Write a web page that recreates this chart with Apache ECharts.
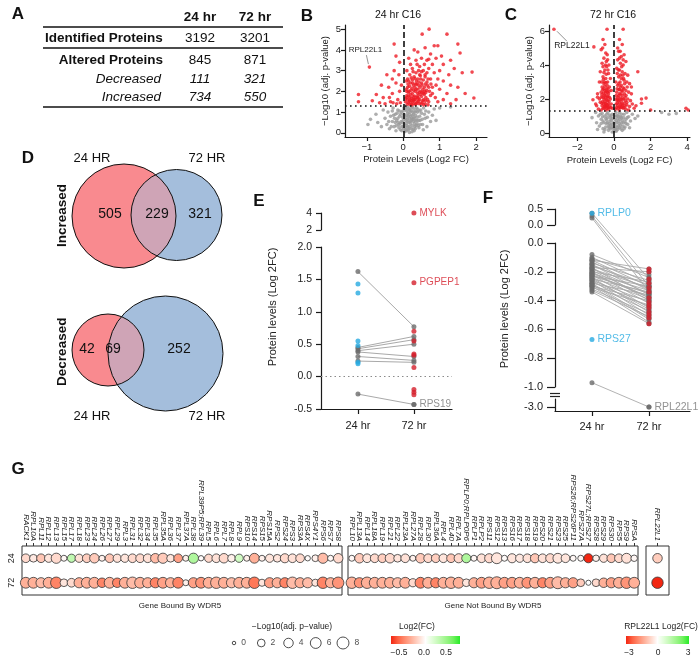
<!DOCTYPE html>
<html><head><meta charset="utf-8">
<script src="https://cdn.jsdelivr.net/npm/echarts@6/dist/echarts.min.js"></script>
<style>html,body{margin:0;padding:0;background:#fff}#c{width:700px;height:661px}</style>
</head><body><div id="c"></div>
<script>
const FONT = "'Liberation Sans', Arial, Helvetica, sans-serif";

// ---------------- Panel A : table
const tableHeaders = ['24 hr', '72 hr'];
const tableRows = ['Identified Proteins', 'Altered Proteins', 'Decreased', 'Increased'];
const tableVals24 = [3192, 845, 111, 734];
const tableVals72 = [3201, 871, 321, 550];

// ---------------- Panel B : volcano 24 hr
const sigLine = 1.3;
const B_label = ['RPL22L1', -0.93, 3.17];
const B_red = [[-0.93,3.17],[0.52,4.76],[0.71,5.0],[1.2,4.76],[-0.25,4.28],[1.5,4.28],[1.56,3.85],[1.62,2.9],[-1.23,1.85],[-0.74,1.85],[-1.23,1.5],[1.89,2.93],[1.94,1.68],
[0.85,4.2],[0.95,4.2],[0.6,4.1],[0.4,3.9],[0.3,4.0],[0.75,3.8],[0.9,3.6],[1.05,3.7],[1.1,3.3],[1.3,3.5],[1.4,3.1],[1.25,2.8],[1.0,3.0],[0.8,3.3],[0.65,3.5],[0.5,3.6],[0.35,3.5],[0.2,3.3],[0.15,3.6],[0.1,3.0],[0.25,3.1],[0.45,3.2],[0.55,3.0],[0.7,3.1],[0.85,2.9],[0.95,2.6],[1.1,2.5],[1.3,2.3],[1.5,2.2],[1.7,1.9],[1.45,1.6],[1.2,1.9],[1.0,2.1],[0.9,2.3],[0.75,2.6],[0.6,2.7],[0.45,2.8],[0.3,2.7],[0.18,2.8],[0.08,2.5],[0.12,2.2],[0.2,2.4],[0.28,2.3],[0.36,2.5],[0.42,2.3],[0.5,2.4],[0.58,2.2],[0.66,2.3],[0.72,2.0],[0.8,1.9],[0.88,1.7],[0.95,1.5],[1.1,1.6],[1.3,1.4],[0.7,1.5],[0.62,1.7],[0.55,1.9],[0.48,2.0],[0.4,1.8],[0.33,2.0],[0.25,1.9],[0.18,1.7],[0.1,1.8],[0.06,1.5],[0.14,1.45],[0.22,1.55],[0.3,1.6],[0.38,1.5],[0.45,1.6],[0.52,1.45],[0.6,1.4],[0.68,1.35],[0.16,2.0],[0.24,2.15],[0.32,2.2],[0.4,2.1],[0.46,2.2],[0.54,2.1],[0.62,1.95],[0.35,1.7],[0.27,1.75],[0.2,1.85],[0.12,1.6],[0.44,1.4],[0.5,1.75],[0.56,1.6],[0.3,1.4],[0.22,1.4],[0.15,2.5],[0.25,2.55],[0.4,2.6],[0.55,2.55],[0.65,2.45],[0.35,2.9],[0.5,2.95],[0.65,2.9],[0.8,2.2],
[0.19,1.35],[0.26,1.5],[0.34,1.38],[0.41,1.65],[0.29,2.05],[0.37,2.35],[0.13,2.35],[0.09,2.0],[0.58,1.85],[0.48,2.6],
[0.07,1.65],[0.11,1.38],[0.17,1.52],[0.23,1.66],[0.31,1.78],[0.39,1.92],[0.47,1.85],[0.53,1.55],[0.61,1.55],[0.67,1.6],[0.09,2.1],[0.17,2.25],[0.26,2.4],[0.34,2.35],[0.43,2.45],[0.51,2.3],[0.6,2.35],[0.7,2.2],[0.14,1.95],[0.21,2.05],[0.35,2.1],[0.44,1.95],[0.52,1.95],[0.29,1.55],[0.36,1.42],[0.42,1.52],[0.49,1.4],[0.56,1.35],[0.24,1.35],[0.33,1.62],[0.4,1.72],[0.18,1.58],[0.27,1.62],[0.15,1.78],[0.09,1.72],[0.58,2.0],[0.64,2.05],[0.75,1.8],[0.76,2.35],[0.68,2.6],[0.22,2.65],[0.32,2.62],[0.12,2.6],[0.6,2.8],[0.42,3.0],[0.27,2.95],[0.38,3.3],[0.58,3.3],[0.7,3.55],[0.47,2.75],
[-0.1,2.0],[-0.15,1.6],[-0.2,2.4],[-0.3,1.9],[-0.35,1.5],[-0.4,2.2],[-0.45,2.8],[-0.55,1.7],[-0.6,2.3],[-0.25,3.0],[-0.12,2.8],[-0.18,1.4],[-0.08,1.45],[-0.5,1.4],[-0.65,1.45],[-0.3,2.6],[-0.1,3.4],[-0.2,3.7],[-0.85,1.55],[-0.05,2.3],[-0.38,1.7],[-0.28,1.45]];
const B_grey = [[-0.97,0.4],[-0.9,0.65],[-0.75,0.9],[-0.7,0.5],[-0.6,0.3],[-0.55,1.1],[-0.5,0.7],[-0.45,0.4],[-0.42,1.0],[-0.38,0.2],[-0.35,0.8],[-0.3,0.55],[-0.28,1.2],[-0.25,0.3],[-0.22,0.9],[-0.2,0.1],[-0.18,0.6],[-0.15,1.1],[-0.12,0.4],[-0.1,0.8],[-0.08,0.15],[-0.05,1.0],[-0.03,0.5],[0,0.3],[0.02,0.9],[0.04,0.05],[0.06,1.2],[0.08,0.6],[0.1,0.35],[0.12,0.95],[0.14,0.15],[0.16,0.7],[0.18,1.1],[0.2,0.45],[0.22,0.2],[0.24,0.85],[0.26,1.25],[0.28,0.55],[0.3,0.1],[0.32,1.0],[0.35,0.35],[0.38,0.75],[0.4,1.15],[0.43,0.25],[0.46,0.6],[0.5,0.95],[0.53,0.4],[0.56,1.2],[0.6,0.7],[0.65,0.3],[0.7,1.0],[0.75,0.55],[0.8,0.85],[0.85,1.15],[0.9,0.6],[0.05,0.7],[0.15,0.5],[0.25,0.65],[0.1,1.05],[0.2,0.8],[-0.02,0.75],[-0.12,0.25],[0.33,0.6],[0.45,0.8],[-0.06,0.55],[0.07,0.25],[0.18,0.3],[0.28,0.9],[0.38,0.45],[-0.22,0.5],[0.02,1.2],[0.12,1.25],[-0.3,1.05],[0.48,1.1],[0.62,1.05],[0.55,0.15],[-0.15,0.7],[0.03,0.4],[0.22,1.05],[0.36,1.2],[1.0,1.2],[1.3,1.25],[0.09,0.1],[0.17,0.02],[0.27,0.18],[-0.04,0.1],[0.13,0.8],[0.3,0.75],
[0.0,0.6],[0.03,0.85],[0.05,1.1],[0.08,0.45],[0.11,0.65],[0.13,0.3],[0.16,0.9],[0.19,0.55],[0.21,1.2],[0.23,0.7],[0.25,0.35],[0.27,1.0],[0.29,0.7],[0.31,0.45],[0.34,0.85],[0.37,0.6],[0.39,1.0],[0.41,0.35],[0.44,1.05],[0.47,0.4],[-0.01,1.05],[-0.04,0.3],[-0.07,0.9],[-0.09,0.45],[-0.11,1.05],[-0.14,0.5],[-0.17,0.95],[-0.19,0.35],[-0.24,0.7],[-0.27,0.85],[0.06,0.15],[0.15,0.2],[0.24,0.05],[0.33,0.2],[0.42,0.6],[0.52,0.65],[0.58,0.9],[0.66,0.75],[-0.33,0.3],[-0.4,0.55],[0.01,0.2],[0.09,0.82],[0.19,1.0],[0.29,1.15],[0.12,0.55],[0.22,0.6],[0.32,0.3],[0.04,1.25],[0.14,1.15],[0.35,1.05]];

// ---------------- Panel C : volcano 72 hr
const C_label = ['RPL22L1', -3.28, 6.1];
const C_red = [[-3.28,6.1],[-0.38,6.1],[0.5,6.1],[-1.1,5.06],[1.3,3.6],[1.5,2.0],[1.75,2.05],[2.0,1.35],[1.5,1.75],[3.93,1.45],[4.05,1.35],[-1.15,1.95],[-0.9,2.1],
[-0.6,5.5],[-0.5,5.2],[-0.7,4.9],[-0.45,4.7],[-0.55,4.4],[-0.35,4.3],[-0.65,4.1],[-0.4,3.9],[-0.5,3.7],[-0.75,3.6],[-0.3,3.5],[-0.6,3.3],[-0.45,3.2],[-0.8,3.0],[-0.35,3.0],[-0.55,2.9],[-0.65,2.7],[-0.4,2.6],[-0.25,2.7],[-0.5,2.5],[-0.7,2.4],[-0.9,2.3],[-0.3,2.3],[-0.45,2.2],[-0.6,2.1],[-0.2,2.0],[-0.35,1.9],[-0.5,1.85],[-0.75,1.8],[-1.0,1.7],[-0.65,1.6],[-0.4,1.6],[-0.25,1.55],[-0.15,1.7],[-0.55,1.45],[-0.85,1.4],[-0.3,1.4],[-0.1,1.45],[-0.45,1.35],[-0.7,1.35],[-0.6,3.9],[-0.42,4.2],[-0.52,3.0],[-0.38,2.8],[-0.58,2.35],[-0.48,1.6],[-0.62,5.0],[-0.28,4.0],[-0.2,3.2],[-0.15,2.5],[-0.8,2.0],[-0.95,1.6],[-0.55,2.0],[-0.42,2.45],[-0.33,3.7],[-0.68,3.0],[-0.36,2.1],[-0.46,1.75],[-0.56,2.6],[-0.62,1.85],[-0.3,1.7],
[-0.32,1.5],[-0.38,1.45],[-0.43,1.55],[-0.52,1.55],[-0.6,1.45],[-0.66,1.75],[-0.57,1.7],[-0.44,1.7],[-0.36,1.65],[-0.27,1.85],[-0.4,1.95],[-0.48,2.05],[-0.53,2.2],[-0.66,2.25],[-0.33,2.15],[-0.27,2.45],[-0.36,2.4],[-0.47,2.35],[-0.62,2.55],[-0.5,2.75],[-0.44,2.95],[-0.33,2.6],[-0.58,3.15],[-0.42,3.45],[-0.55,3.55],[-0.25,2.1],[-0.18,1.5],[-0.7,2.1],[-0.47,4.0],[-0.37,4.6],
[0.3,5.5],[0.45,5.2],[0.25,4.8],[0.4,4.5],[0.55,4.6],[0.2,4.3],[0.35,4.1],[0.5,4.0],[0.65,4.2],[0.15,3.8],[0.3,3.7],[0.45,3.6],[0.6,3.5],[0.75,3.4],[0.25,3.3],[0.4,3.2],[0.55,3.1],[0.7,3.0],[0.85,2.9],[0.1,3.0],[0.2,2.8],[0.35,2.7],[0.5,2.65],[0.65,2.5],[0.8,2.4],[0.95,2.3],[0.15,2.4],[0.3,2.3],[0.45,2.2],[0.6,2.1],[0.75,2.0],[0.9,1.9],[1.0,1.7],[0.1,2.0],[0.25,1.9],[0.4,1.85],[0.55,1.75],[0.7,1.65],[0.85,1.55],[0.2,1.6],[0.35,1.5],[0.5,1.45],[0.65,1.4],[0.8,1.35],[0.08,1.4],[0.28,1.35],[0.42,2.5],[0.58,2.9],[0.33,3.0],[0.48,3.4],[0.22,2.1],[0.62,1.9],[0.38,1.65],[0.12,1.7],[0.52,2.0],[0.72,2.7],[0.18,3.5],[0.42,3.9],[0.3,4.4],[1.1,1.45],[1.2,1.6],[0.95,2.7],[0.27,2.55],[0.37,2.05],[0.47,1.6],[0.17,1.9],
[0.14,1.5],[0.23,1.45],[0.31,1.55],[0.42,1.5],[0.55,1.5],[0.6,1.6],[0.45,1.7],[0.3,1.75],[0.18,1.75],[0.2,2.0],[0.33,1.95],[0.45,2.0],[0.57,2.3],[0.38,2.3],[0.26,2.2],[0.17,2.6],[0.3,2.55],[0.46,2.45],[0.55,2.6],[0.26,2.9],[0.4,2.8],[0.52,3.2],[0.35,3.4],[0.24,3.7],[0.12,2.2],[0.7,1.8],[0.66,2.2],[0.34,4.8],[0.2,5.0],[0.5,4.3]];
const C_grey = [[-1.2,0.9],[-1.0,1.2],[-0.95,0.6],[-0.85,1.0],[-0.8,0.4],[-0.7,0.8],[-0.65,1.15],[-0.6,0.25],[-0.55,0.6],[-0.5,1.0],[-0.45,0.35],[-0.4,0.75],[-0.35,1.2],[-0.3,0.15],[-0.25,0.55],[-0.2,0.9],[-0.15,0.3],[-0.1,1.1],[-0.05,0.6],[0,0.1],[0.05,0.8],[0.1,0.4],[0.15,1.0],[0.2,0.2],[0.25,0.7],[0.3,1.2],[0.35,0.45],[0.4,0.9],[0.45,0.15],[0.5,0.6],[0.55,1.1],[0.6,0.35],[0.65,0.8],[0.7,1.2],[0.75,0.5],[0.8,0.95],[0.9,0.7],[1.0,1.1],[1.15,0.85],[1.3,1.0],[-0.55,0.05],[-0.35,0.6],[-0.15,0.75],[0.05,0.25],[0.25,0.4],[0.45,0.75],[-0.45,0.85],[-0.25,1.05],[0.15,0.6],[0.35,0.95],[-0.7,0.55],[0.65,0.55],[-0.05,0.35],[0.1,1.2],[-0.3,0.4],[0.2,0.85],[2.6,1.2],[3.0,1.1],[3.4,1.15],[-0.9,0.2],[0.85,0.3],[0.55,0.25],[-0.1,0.05],[0.12,0.1],[-0.2,0.25],[0.3,0.3],
[-0.5,0.2],[-0.42,0.55],[-0.36,0.9],[-0.28,0.3],[-0.22,0.7],[-0.16,1.0],[-0.12,0.5],[-0.08,0.85],[-0.02,0.25],[0.02,0.55],[0.07,1.0],[0.12,0.7],[0.17,0.3],[0.22,1.05],[0.28,0.55],[0.32,0.8],[0.38,0.25],[0.42,1.1],[0.48,0.4],[0.52,0.9],[-0.6,0.7],[-0.75,1.1],[-0.62,0.95],[0.6,0.65],[0.72,0.9],[-0.2,0.45],[0.1,0.15],[0.25,0.95],[-0.4,1.1],[0.4,0.6]];

// ---------------- Panel D : Venn
const vennSetLabels = ['24 HR', '72 HR'];
const vennIncreased = [505, 229, 321];
const vennDecreased = [42, 69, 252];

// ---------------- Panel E
const E_pair24 = [1.62, 0.45, 0.43, 0.40, 0.38, 0.31, 0.24, -0.27];
const E_pair72 = [0.77, 0.62, 0.57, 0.50, 0.31, 0.25, 0.22, -0.43];
const E_blue24 = [1.43, 1.29, 0.55, 0.48, 0.22, 0.20];
const E_red72 = [0.70, 0.55, 0.35, 0.33, 0.14, -0.20, -0.24, -0.28];
const E_named = [['MYLK', 2, 4.0], ['PGPEP1', 2, 1.45], ['RPS19', 2, -0.43]];

// ---------------- Panel F
const F_pair24 = [0.37, 0.28, 0.22,
  -0.08,-0.10,-0.11,-0.12,-0.13,-0.14,-0.15,-0.16,-0.17,-0.18,-0.18,-0.19,-0.20,-0.20,-0.21,-0.22,-0.22,-0.23,-0.24,-0.24,-0.25,-0.26,-0.26,-0.27,-0.28,-0.28,-0.29,-0.30,-0.30,-0.31,-0.32,-0.33,-0.34,-0.15,-0.21,-0.25,-0.17,-0.12,-0.29,-0.23,
  -0.97];
const F_pair72 = [-0.25, -0.30, -0.34,
  -0.24,-0.28,-0.22,-0.30,-0.33,-0.26,-0.36,-0.29,-0.40,-0.31,-0.35,-0.38,-0.27,-0.42,-0.33,-0.45,-0.37,-0.30,-0.48,-0.39,-0.34,-0.50,-0.41,-0.44,-0.36,-0.52,-0.47,-0.40,-0.55,-0.43,-0.49,-0.51,-0.56,-0.32,-0.38,-0.46,-0.20,-0.18,-0.53,-0.35,
  -3.0];
const F_red72 = [-0.18,-0.20,-0.25,-0.28,-0.31,-0.34,-0.38,-0.41,-0.43,-0.45,-0.48,-0.50,-0.52,-0.56];
const F_named = [['RPLP0', 1, 0.37], ['RPS27', 1, -0.67], ['RPL22L1', 2, -3.0]];

// ---------------- Panel G
const gRows = ['72', '24'];
const gBound = ['RACK1','RPL10A','RPL11','RPL12','RPL13','RPL15','RPL17','RPL18','RPL23','RPL24','RPL26','RPL27','RPL29','RPL3','RPL31','RPL32','RPL34','RPL35','RPL35A','RPL36','RPL37','RPL37A','RPL38','RPL39P5;RPL39','RPL5','RPL6','RPL7','RPL8','RPL9','RPS10','RPS14','RPS15','RPS15A','RPS2','RPS24','RPS3','RPS3A','RPS4X','RPS4Y1','RPS6','RPS7','RPS8'];
const gBound_fc24 = [-0.1,-0.06,-0.15,-0.07,-0.1,-0.02,0.2,-0.08,-0.13,-0.14,-0.04,-0.15,-0.08,-0.07,-0.1,-0.1,-0.08,-0.18,-0.14,-0.07,-0.25,-0.04,0.25,-0.01,-0.1,-0.08,-0.1,-0.04,0.15,-0.04,-0.21,-0.04,-0.07,-0.07,-0.1,-0.08,-0.1,-0.01,-0.04,-0.18,-0.02,-0.1];
const gBound_p24 = [3,2,3,2.5,5,0.7,2.5,2.5,3,4,0.7,3,2.5,2.5,3,3,3,4,5,2,3,0.7,5,0.4,2.5,3,4,2,2.5,0.7,4.5,0.7,2.5,2,3.5,3,3,0.4,1.2,5,0.7,4];
const gBound_fc72 = [-0.21,-0.21,-0.18,-0.21,-0.32,-0.07,-0.1,-0.21,-0.21,-0.21,-0.32,-0.21,-0.32,-0.21,-0.18,-0.21,-0.21,-0.32,-0.25,-0.21,-0.32,-0.04,-0.25,-0.28,-0.21,-0.21,-0.21,-0.18,-0.21,-0.21,-0.35,-0.07,-0.25,-0.21,-0.32,-0.18,-0.21,-0.18,-0.07,-0.32,-0.21,-0.28];
const gBound_p72 = [6,6,5,6,7,2,3,5,6,6,4,6,4,6,7,6,5,5,6,5,6,0.7,5,6,6,7,6,5,6,6,7,1.5,5,5,5,7,5,5,1.5,7,5,7];
const gUnbound = ['RPL10','RPL13A','RPL14','RPL18A','RPL19','RPL21','RPL22','RPL23A','RPL27A','RPL28','RPL30','RPL36A','RPL4','RPL40','RPL7A','RPLP0;RPLP0P6','RPLP1','RPLP2','RPS11','RPS12','RPS13','RPS16','RPS17','RPS18','RPS19','RPS20','RPS21','RPS23','RPS25','RPS26;RPS26P11','RPS27A','RPS27L;RPS27','RPS28','RPS29','RPS30','RPS5','RPS9','RPSA'];
const gUnbound_fc24 = [-0.02,-0.14,-0.07,-0.1,-0.13,-0.1,-0.07,-0.08,-0.04,-0.14,-0.1,-0.13,-0.07,-0.15,-0.1,0.25,-0.02,-0.08,-0.1,-0.07,-0.01,-0.07,-0.06,-0.08,-0.15,-0.08,-0.1,-0.07,-0.07,-0.02,-0.02,-0.5,-0.04,-0.08,-0.15,-0.1,-0.08,-0.02];
const gUnbound_p24 = [0.7,4,3,3,3,4,2,3,0.7,4,3,3,3,3,3.5,3.5,0.7,3,3.5,6,0.7,3.5,2.5,3,3.5,3,3.5,4.5,3,0.7,0.7,3.5,1,2.5,3,3,4.5,1];
const gUnbound_fc72 = [-0.21,-0.28,-0.21,-0.21,-0.21,-0.21,-0.18,-0.21,-0.1,-0.32,-0.21,-0.32,-0.21,-0.21,-0.21,-0.07,-0.21,-0.25,-0.21,-0.21,-0.25,-0.25,-0.21,-0.28,-0.21,-0.32,-0.25,-0.18,-0.21,-0.25,-0.14,0,-0.1,-0.21,-0.25,-0.21,-0.28,-0.21];
const gUnbound_p72 = [7,5,7,6,6,6,5,6,2.5,6,6,5,6,7,6,2,5,6,7,8,6,6,6,6,6,5,6,8,5,5,2,0.3,2,4,5,6,7,6];
const gSingle = ['RPL22L1'];
const gSingle_fc24 = [-0.8], gSingle_p24 = [4], gSingle_fc72 = [-3], gSingle_p72 = [7];
const sizeLegendVals = [0, 2, 4, 6, 8];
const fcLegendTicks = [-0.5, 0.0, 0.5];
const rplLegendTicks = [-3, 0, 3];

// ================= helpers
const AX = '#1a1a1a';
function merge(a, b) { const r = Object.assign({}, a); for (const k in b) { if (b[k] && typeof b[k] === 'object' && !Array.isArray(b[k]) && a[k] && typeof a[k] === 'object') r[k] = merge(a[k], b[k]); else r[k] = b[k]; } return r; }
const baseVal = {
  type: 'value',
  axisLine: { show: true, onZero: false, lineStyle: { color: AX, width: 1.2 } },
  axisTick: { show: true, length: 4, lineStyle: { color: AX, width: 1.2 } },
  axisLabel: { color: '#222', fontSize: 9.5, fontFamily: FONT, margin: 5 },
  splitLine: { show: false },
  nameTextStyle: { color: '#222', fontSize: 9.5, fontFamily: FONT }
};
const hidden = (g, min, max, extra) => Object.assign({ type: 'value', gridIndex: g, show: false, min, max }, extra || {});
const minusFmt = v => String(v).replace('-', '\u2212');
const fix1 = v => (Math.abs(v) < 1e-9 ? 0 : v).toFixed(1);
const sz = p => 3.5 + 3 * Math.sqrt(Math.max(p, 0));

// colour scale: interpolate in CIE Lab between white and red / green
function lin(c) { c /= 255; return c <= 0.04045 ? c / 12.92 : Math.pow((c + 0.055) / 1.055, 2.4); }
function unlin(c) { c = c <= 0.0031308 ? 12.92 * c : 1.055 * Math.pow(c, 1 / 2.4) - 0.055; return Math.max(0, Math.min(255, Math.round(c * 255))); }
function toLab(rgb) {
  const [r, g, b] = rgb.map(lin);
  const X = (0.4124 * r + 0.3576 * g + 0.1805 * b) / 0.95047, Y = 0.2126 * r + 0.7152 * g + 0.0722 * b, Z = (0.0193 * r + 0.1192 * g + 0.9505 * b) / 1.08883;
  const f = t => t > 0.008856 ? Math.cbrt(t) : 7.787 * t + 16 / 116;
  const fx = f(X), fy_ = f(Y), fz = f(Z);
  return [116 * fy_ - 16, 500 * (fx - fy_), 200 * (fy_ - fz)];
}
function fromLab(lab) {
  const fy_ = (lab[0] + 16) / 116, fx = fy_ + lab[1] / 500, fz = fy_ - lab[2] / 200;
  const fi = t => t > 0.206893 ? t * t * t : (t - 16 / 116) / 7.787;
  const X = fi(fx) * 0.95047, Y = fi(fy_), Z = fi(fz) * 1.08883;
  const r = 3.2406 * X - 1.5372 * Y - 0.4986 * Z, g = -0.9689 * X + 1.8758 * Y + 0.0415 * Z, b = 0.0557 * X - 0.2040 * Y + 1.0570 * Z;
  return 'rgb(' + unlin(r) + ',' + unlin(g) + ',' + unlin(b) + ')';
}
const LAB_W = toLab([255, 255, 255]), LAB_R = toLab([242, 38, 18]), LAB_G = toLab([40, 235, 40]);
function fcColor(fc, range) {
  const t = Math.max(-1, Math.min(1, fc / range));
  const e = t < 0 ? LAB_R : LAB_G, a = Math.abs(t);
  return fromLab([0, 1, 2].map(k => LAB_W[k] + (e[k] - LAB_W[k]) * a));
}
function gData(fc24, p24, fc72, p72) { const d = []; fc24.forEach((f, i) => { d.push([i, 1, p24[i], f]); d.push([i, 0, p72[i], fc72[i]]); }); return d; }

// F broken axis segments (pixel layout) and display mapping
const F_disp = { top: 205, height: 206 };
const F_segs = [ { top: 209, height: 16, min: 0, max: 0.5 }, { top: 243, height: 144, min: -1, max: 0 }, { top: 399, height: 12, min: -3.05, max: -2.9 } ];
function fy(v) { const s = v > 0.01 ? F_segs[0] : (v < -2 ? F_segs[2] : F_segs[1]); return s.top + s.height * (s.max - v) / (s.max - s.min) - F_disp.top; }

const colE = { grey: '#6b6b6b', blue: '#27aae1', red: '#d51f2c', line: '#a9a9a9' };
const VS = 3.6; // volcano symbol size

// ================= option
const gridBox = { show: true, borderColor: '#333', borderWidth: 1 };
const catX = (g, data) => ({ type: 'category', gridIndex: g, data, position: 'top', axisLine: { show: false }, axisTick: { show: true, alignWithLabel: true, length: 3, lineStyle: { color: '#333' } }, axisLabel: { rotate: 90, interval: 0, fontSize: 8, fontStyle: 'italic', fontFamily: FONT, color: '#222', margin: 5 }, splitLine: { show: false } });
const gScatter = (ax, data, range) => ({ type: 'scatter', xAxisIndex: ax, yAxisIndex: ax, silent: true, data,
  symbolSize: v => sz(v[2]), itemStyle: { color: p => fcColor(p.data[3], range), borderColor: '#333', borderWidth: 0.8, opacity: 1 } });
const option = {
  animation: false,
  backgroundColor: '#fff',
  textStyle: { fontFamily: FONT },
  grid: [
    { left: 345, top: 25, width: 142, height: 112 },            // 0 B
    { left: 549, top: 25, width: 141, height: 112 },            // 1 C
    { left: 321, top: 247, width: 131, height: 162 },           // 2 E main
    { left: 321, top: 213, width: 131, height: 17 },            // 3 E top
    { left: 555, top: F_disp.top, width: 135, height: F_disp.height }, // 4 F points
    { left: 555, top: F_segs[0].top, width: 135, height: F_segs[0].height }, // 5
    { left: 555, top: F_segs[1].top, width: 135, height: F_segs[1].height }, // 6
    { left: 555, top: F_segs[2].top, width: 135, height: F_segs[2].height }, // 7
    Object.assign({ left: 22, top: 546, width: 320, height: 49 }, gridBox),  // 8
    Object.assign({ left: 348, top: 546, width: 290, height: 49 }, gridBox), // 9
    Object.assign({ left: 646, top: 546, width: 23, height: 49 }, gridBox),  // 10
    { left: 234, top: 636, width: 109, height: 14 }              // 11 size legend
  ],
  xAxis: [
    merge(baseVal, { gridIndex: 0, min: -1.6, max: 2.3, axisTick: { customValues: [-1, 0, 1, 2] }, axisLabel: { customValues: [-1, 0, 1, 2], formatter: minusFmt }, name: 'Protein Levels (Log2 FC)', nameLocation: 'middle', nameGap: 17 }),
    merge(baseVal, { gridIndex: 1, min: -3.55, max: 4.15, axisTick: { customValues: [-2, 0, 2, 4] }, axisLabel: { customValues: [-2, 0, 2, 4], formatter: minusFmt }, name: 'Protein Levels (Log2 FC)', nameLocation: 'middle', nameGap: 18 }),
    merge(baseVal, { gridIndex: 2, min: 0.34, max: 2.68, axisTick: { length: 5, customValues: [1, 2] }, axisLabel: { customValues: [1, 2], fontSize: 11, margin: 11, formatter: v => Math.round(v) === 1 ? '24 hr' : '72 hr' } }),
    hidden(3, 0.34, 2.68),
    hidden(4, 0.351, 2.72),
    hidden(5, 0.351, 2.72),
    hidden(6, 0.351, 2.72),
    merge(baseVal, { gridIndex: 7, min: 0.351, max: 2.72, axisTick: { length: 5, customValues: [1, 2] }, axisLabel: { customValues: [1, 2], fontSize: 11, margin: 10, formatter: v => Math.round(v) === 1 ? '24 hr' : '72 hr' } }),
    catX(8, gBound), catX(9, gUnbound), catX(10, gSingle),
    hidden(11, 0, 8)
  ],
  yAxis: [
    merge(baseVal, { gridIndex: 0, min: -0.2, max: 5.2, axisTick: { customValues: [0, 1, 2, 3, 4, 5] }, axisLabel: { customValues: [0, 1, 2, 3, 4, 5], margin: 4 }, name: '\u2212Log10 (adj. p-value)', nameLocation: 'middle', nameGap: 15 }),
    merge(baseVal, { gridIndex: 1, min: -0.24, max: 6.35, axisTick: { customValues: [0, 2, 4, 6] }, axisLabel: { customValues: [0, 2, 4, 6], margin: 4 }, name: '\u2212Log10 (adj. p-value)', nameLocation: 'middle', nameGap: 15 }),
    merge(baseVal, { gridIndex: 2, min: -0.5, max: 2, interval: 0.5, axisTick: { length: 5 }, axisLabel: { fontSize: 10.5, margin: 9, formatter: fix1 } }),
    merge(baseVal, { gridIndex: 3, min: 2, max: 4, interval: 2, axisTick: { length: 5 }, axisLabel: { fontSize: 10.5, margin: 9 } }),
    hidden(4, 0, F_disp.height, { inverse: true }),
    merge(baseVal, { gridIndex: 5, min: F_segs[0].min, max: F_segs[0].max, interval: 0.5, axisTick: { length: 8 }, axisLabel: { fontSize: 11, margin: 12, formatter: fix1 } }),
    merge(baseVal, { gridIndex: 6, min: F_segs[1].min, max: F_segs[1].max, interval: 0.2, axisTick: { length: 8 }, axisLabel: { fontSize: 11, margin: 12, formatter: fix1 } }),
    merge(baseVal, { gridIndex: 7, min: F_segs[2].min, max: F_segs[2].max, axisTick: { length: 8, customValues: [-3] }, axisLabel: { fontSize: 11, margin: 12, customValues: [-3], formatter: fix1 } }),
    { type: 'category', gridIndex: 8, data: gRows, axisLine: { show: false }, axisTick: { show: false }, axisLabel: { rotate: 90, fontSize: 9, fontFamily: FONT, color: '#222', margin: 6 } },
    { type: 'category', gridIndex: 9, data: gRows, axisLine: { show: false }, axisTick: { show: false }, axisLabel: { show: false } },
    { type: 'category', gridIndex: 10, data: gRows, axisLine: { show: false }, axisTick: { show: false }, axisLabel: { show: false } },
    hidden(11, 0, 1)
  ],
  series: [
    // B
    { type: 'scatter', xAxisIndex: 0, yAxisIndex: 0, data: B_grey, symbolSize: VS, itemStyle: { color: '#9a9a9a' }, silent: true },
    { type: 'scatter', xAxisIndex: 0, yAxisIndex: 0, data: B_red, symbolSize: VS, itemStyle: { color: '#ee1c25' }, silent: true,
      markLine: { silent: true, symbol: ['none', 'none'], label: { show: false }, data: [
        { xAxis: 0, lineStyle: { color: '#111', type: [6, 3], width: 1.6 } },
        { yAxis: sigLine, lineStyle: { color: '#111', type: [1.6, 3.4], width: 1.6 } } ] } },
    // C
    { type: 'scatter', xAxisIndex: 1, yAxisIndex: 1, data: C_grey, symbolSize: VS, itemStyle: { color: '#9a9a9a' }, silent: true },
    { type: 'scatter', xAxisIndex: 1, yAxisIndex: 1, data: C_red, symbolSize: VS, itemStyle: { color: '#ee1c25' }, silent: true,
      markLine: { silent: true, symbol: ['none', 'none'], label: { show: false }, data: [
        { xAxis: 0, lineStyle: { color: '#111', type: [6, 3], width: 1.6 } },
        { yAxis: sigLine, lineStyle: { color: '#111', type: [1.6, 3.4], width: 1.6 } } ] } },
    // E
    { type: 'lines', coordinateSystem: 'cartesian2d', xAxisIndex: 2, yAxisIndex: 2, silent: true,
      data: E_pair24.map((a, i) => ({ coords: [[1, a], [2, E_pair72[i]]] })), lineStyle: { color: colE.line, width: 1, opacity: 1 } },
    { type: 'scatter', xAxisIndex: 2, yAxisIndex: 2, symbolSize: 5, itemStyle: { color: colE.grey }, silent: true,
      data: E_pair24.map(v => [1, v]).concat(E_pair72.map(v => [2, v])),
      markLine: { silent: true, symbol: ['none', 'none'], label: { show: false }, data: [{ yAxis: 0, lineStyle: { color: '#8a8a8a', type: [1.5, 3], width: 1 } }] } },
    { type: 'scatter', xAxisIndex: 2, yAxisIndex: 2, symbolSize: 5, itemStyle: { color: colE.blue }, silent: true, data: E_blue24.map(v => [1, v]) },
    { type: 'scatter', xAxisIndex: 2, yAxisIndex: 2, symbolSize: 5, itemStyle: { color: colE.red }, silent: true, data: E_red72.map(v => [2, v]) },
    { type: 'scatter', xAxisIndex: 3, yAxisIndex: 3, symbolSize: 5, clip: false, silent: true, data: [E_named[0].slice(1)], itemStyle: { color: colE.red },
      label: { show: true, position: 'right', distance: 3, formatter: E_named[0][0], color: colE.red, fontSize: 10, fontFamily: FONT } },
    { type: 'scatter', xAxisIndex: 2, yAxisIndex: 2, symbolSize: 5, silent: true, data: [E_named[1].slice(1)], itemStyle: { color: colE.red },
      label: { show: true, position: 'right', distance: 3, formatter: E_named[1][0], color: colE.red, fontSize: 10, fontFamily: FONT } },
    { type: 'scatter', xAxisIndex: 2, yAxisIndex: 2, symbolSize: 5, silent: true, data: [E_named[2].slice(1)], itemStyle: { color: colE.grey },
      label: { show: true, position: 'right', distance: 3, formatter: E_named[2][0], color: '#777', fontSize: 10, fontFamily: FONT } },
    // F
    { type: 'lines', coordinateSystem: 'cartesian2d', xAxisIndex: 4, yAxisIndex: 4, silent: true,
      data: F_pair24.map((a, i) => ({ coords: [[1, fy(a)], [2, fy(F_pair72[i])]] })), lineStyle: { color: colE.line, width: 0.9, opacity: 1 } },
    { type: 'scatter', xAxisIndex: 4, yAxisIndex: 4, symbolSize: 5, itemStyle: { color: colE.grey }, silent: true,
      data: F_pair24.map(v => [1, fy(v)]).concat(F_pair72.map(v => [2, fy(v)])) },
    { type: 'scatter', xAxisIndex: 4, yAxisIndex: 4, symbolSize: 5, itemStyle: { color: colE.red }, silent: true, data: F_red72.map(v => [2, fy(v)]) },
    { type: 'scatter', xAxisIndex: 4, yAxisIndex: 4, symbolSize: 5, silent: true, data: [[F_named[0][1], fy(F_named[0][2])]], itemStyle: { color: colE.blue },
      label: { show: true, position: 'right', distance: 3, formatter: F_named[0][0], color: colE.blue, fontSize: 10.5, fontFamily: FONT } },
    { type: 'scatter', xAxisIndex: 4, yAxisIndex: 4, symbolSize: 5, silent: true, data: [[F_named[1][1], fy(F_named[1][2])]], itemStyle: { color: colE.blue },
      label: { show: true, position: 'right', distance: 3, formatter: F_named[1][0], color: colE.blue, fontSize: 10.5, fontFamily: FONT } },
    { type: 'scatter', xAxisIndex: 4, yAxisIndex: 4, symbolSize: 5, silent: true, data: [[F_named[2][1], fy(F_named[2][2])]], itemStyle: { color: colE.grey },
      label: { show: true, position: 'right', distance: 3, formatter: F_named[2][0], color: '#777', fontSize: 10.5, fontFamily: FONT } },
    // G
    gScatter(8, gData(gBound_fc24, gBound_p24, gBound_fc72, gBound_p72), 0.5),
    gScatter(9, gData(gUnbound_fc24, gUnbound_p24, gUnbound_fc72, gUnbound_p72), 0.5),
    gScatter(10, gData(gSingle_fc24, gSingle_p24, gSingle_fc72, gSingle_p72), 3),
    { type: 'scatter', xAxisIndex: 11, yAxisIndex: 11, silent: true, data: sizeLegendVals.map(v => [v, 0.5]),
      symbolSize: v => sz(v[0]), itemStyle: { color: '#fff', borderColor: '#222', borderWidth: 1 },
      label: { show: true, position: 'right', distance: 5, formatter: p => String(p.data[0]), fontSize: 8.5, color: '#222', fontFamily: FONT } }
  ]
};

const chart = echarts.init(document.getElementById('c'));
chart.setOption(option);

// ================= graphic decorations
function T(x, y, s, font, extra, style) {
  return Object.assign({ type: 'text', x, y, silent: true, style: Object.assign({ text: s, fill: '#111', font: font + ' ' + FONT, textAlign: 'center', textVerticalAlign: 'middle' }, style || {}) }, extra || {});
}
function L(x1, y1, x2, y2, stroke, w) { return { type: 'line', silent: true, shape: { x1, y1, x2, y2 }, style: { stroke: stroke || '#111', lineWidth: w || 1.2 } }; }
const G = [];
[['A', 18, 14], ['B', 307, 16], ['C', 511, 15], ['D', 28, 158], ['E', 259, 201], ['F', 488, 198], ['G', 18, 469]].forEach(a => G.push(T(a[1], a[2], a[0], 'bold 17px')));
// table
const colX = [200, 255];
tableHeaders.forEach((h, i) => G.push(T(colX[i], 17, h, 'bold 13.5px')));
G.push(L(43, 27, 283, 27, '#111', 1.3), L(43, 48, 283, 48, '#111', 1.3), L(43, 107, 283, 107, '#111', 1.3));
const rowY = [38, 60, 79, 97];
const rowFont = ['bold 13.5px', 'bold 13.5px', 'italic 13.5px', 'italic 13.5px'];
tableRows.forEach((r, i) => {
  G.push(T(i === 0 ? 45 : (i === 1 ? 163 : 161), rowY[i], r, rowFont[i], null, { textAlign: i === 0 ? 'left' : 'right' }));
  const nf = i >= 2 ? 'italic 13.5px' : '13.5px';
  G.push(T(colX[0], rowY[i], String(tableVals24[i]), nf));
  G.push(T(colX[1], rowY[i], String(tableVals72[i]), nf));
});
G.push(T(398, 15, '24 hr C16', '10.5px'), T(613, 15, '72 hr C16', '10.5px'));
const pB = chart.convertToPixel({ gridIndex: 0 }, [B_label[1], B_label[2]]);
G.push(L(pB[0] - 3, pB[1] - 12, pB[0] - 1, pB[1] - 3, '#777', 0.8), T(pB[0] - 4, pB[1] - 17, B_label[0], '8px', null, { fill: '#222' }));
const pC = chart.convertToPixel({ gridIndex: 1 }, [C_label[1], C_label[2]]);
G.push(L(pC[0] + 3, pC[1] + 2, pC[0] + 13, pC[1] + 12, '#777', 0.8), T(pC[0] + 18, pC[1] + 16, C_label[0], '8.5px', null, { fill: '#222' }));
// Venn
const RF = '#f98a8f', BF = '#a4bedc';
function venn(c1, c2, nums, ly, labelY, title) {
  G.push({ type: 'circle', silent: true, shape: { cx: c1[0], cy: c1[1], r: c1[2] }, style: { fill: RF } });
  G.push({ type: 'circle', silent: true, shape: { cx: c2[0], cy: c2[1], r: c2[2] }, style: { fill: BF } });
  G.push({ type: 'circle', silent: true, shape: { cx: c1[0], cy: c1[1], r: c1[2] }, style: { fill: 'rgba(249,138,143,0.5)' } });
  G.push({ type: 'circle', silent: true, shape: { cx: c1[0], cy: c1[1], r: c1[2] }, style: { fill: null, stroke: '#111', lineWidth: 1 } });
  G.push({ type: 'circle', silent: true, shape: { cx: c2[0], cy: c2[1], r: c2[2] }, style: { fill: null, stroke: '#111', lineWidth: 1 } });
  nums.forEach((n, i) => G.push(T(ly[i], ly[3], String(n), '14px')));
  G.push(T(92, labelY, vennSetLabels[0], '13px'), T(207, labelY, vennSetLabels[1], '13px'));
  G.push(T(62, (c1[1] + c2[1]) / 2, title, 'bold 13.5px', { rotation: Math.PI / 2 }));
}
venn([124, 216, 52], [176.5, 215, 45.5], vennIncreased, [110, 157, 200, 214], 158, 'Increased');
venn([108, 350, 36], [165.5, 353.5, 57.5], vennDecreased, [87, 113, 179, 349], 416, 'Decreased');
G.push(T(273, 307, 'Protein levels (Log 2FC)', '11px', { rotation: Math.PI / 2 }, { fill: '#222' }));
G.push(T(505, 309, 'Protein levels (Log 2FC)', '11px', { rotation: Math.PI / 2 }, { fill: '#222' }));
G.push(L(550, 393.5, 560, 393.5, '#222', 1.2), L(550, 396.5, 560, 396.5, '#222', 1.2));
G.push(T(180, 606, 'Gene Bound By WDR5', '8px', null, { fill: '#222' }), T(493, 606, 'Gene Not Bound By WDR5', '8px', null, { fill: '#222' }));
G.push(T(292, 627, '\u2212Log10(adj. p\u2212value)', '8.5px', null, { fill: '#222' }));
G.push(T(417, 627, 'Log2(FC)', '8.5px', null, { fill: '#222' }), T(661, 627, 'RPL22L1 Log2(FC)', '8.5px', null, { fill: '#222' }));
const stops = [];
for (let k = 0; k <= 10; k++) stops.push({ offset: k / 10, color: fcColor(-1 + k / 5, 1) });
const grad = () => new echarts.graphic.LinearGradient(0, 0, 1, 0, stops);
G.push({ type: 'rect', silent: true, shape: { x: 391, y: 636, width: 69, height: 8 }, style: { fill: grad() } });
G.push({ type: 'rect', silent: true, shape: { x: 626, y: 636, width: 63, height: 8 }, style: { fill: grad() } });
const fcTickX = [399, 424, 446];
fcLegendTicks.forEach((v, i) => G.push(T(fcTickX[i], 653, minusFmt(v.toFixed(1)), '8.5px', null, { fill: '#222' })));
const rplTickX = [629, 658, 688];
rplLegendTicks.forEach((v, i) => G.push(T(rplTickX[i], 653, minusFmt(String(v)), '8.5px', null, { fill: '#222' })));

chart.setOption({ graphic: { elements: G } });
</script>
</body></html>
